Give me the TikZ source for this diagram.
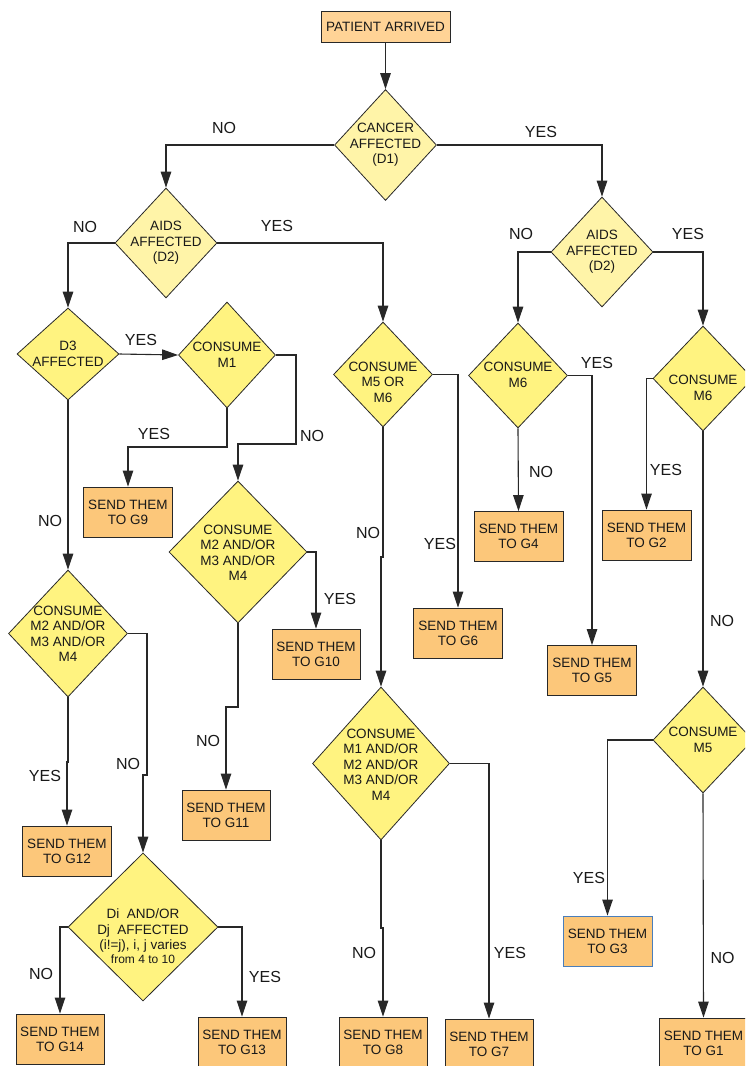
\documentclass[tikz,border=0pt]{standalone}
\usepackage{fontspec}
\setmainfont{Liberation Sans}
\usetikzlibrary{shapes.geometric,arrows.meta}
\definecolor{boxfill}{RGB}{252,199,122}
\definecolor{startfill}{RGB}{255,211,150}
\definecolor{diafill}{RGB}{255,243,128}
\definecolor{dialight}{RGB}{255,244,168}
\definecolor{linecol}{RGB}{40,40,40}
\definecolor{txtcol}{RGB}{25,25,25}
\definecolor{bluebord}{RGB}{74,126,187}
\begin{document}
\begin{tikzpicture}[x=1pt,y=-1pt,
 box/.style={rectangle, draw=linecol, line width=0.9pt, fill=boxfill, minimum width=89pt, minimum height=50pt, inner sep=0pt, align=center, font=\fontsize{13.5}{15}\selectfont, text=txtcol},
 dia/.style={diamond, draw=linecol, line width=0.8pt, fill=diafill, inner sep=0pt},
 dialt/.style={dia, fill=dialight},
 dtxt/.style={align=center, font=\fontsize{13.5}{15.5}\selectfont, text=txtcol, inner sep=0pt},
 lbl/.style={font=\fontsize{16}{18}\selectfont, text=txtcol, inner sep=0pt},
 arr/.style={draw=linecol, line width=1.1pt, -{Triangle[length=16pt,width=10.5pt]}},
 ln/.style={draw=linecol, line width=1.1pt}]
\useasboundingbox (0,0) rectangle (745,1066);
\clip (0,0) rectangle (745,1066);
\fill[white] (0,0) rectangle (745,1066);

% ---------- start ----------
\node[box, fill=startfill, minimum width=129pt, minimum height=31pt] (pa) at (385.5,26.5) {PATIENT ARRIVED};

% ---------- diamonds ----------
\node[dialt, minimum width=102pt, minimum height=111pt] (d1) at (385.5,145) {};
\node[dtxt] (d1t) at (385.5,145) {CANCER\\AFFECTED\\(D1)};

\node[dialt, minimum width=102pt, minimum height=110pt] (d2l) at (166,243) {};
\node[dtxt] (d2lt) at (166,243) {AIDS\\AFFECTED\\(D2)};

\node[dialt, minimum width=102pt, minimum height=110pt] (d2r) at (602,252) {};
\node[dtxt] (d2rt) at (602,252) {AIDS\\AFFECTED\\(D2)};

\node[dia, minimum width=102pt, minimum height=92pt] (d3) at (68,354) {};
\node[dtxt] (d3t) at (68,354) {D3\\AFFECTED};

\node[dia, minimum width=97pt, minimum height=106pt] (m1) at (227,355) {};
\node[dtxt] (m1t) at (227,355) {CONSUME\\M1};

\node[dia, minimum width=138pt, minimum height=142pt] (c234a) at (238,552) {};
\node[dtxt] (c234at) at (238,553) {CONSUME\\M2 AND/OR\\M3 AND/OR\\M4};

\node[dia, minimum width=119pt, minimum height=127pt] (c234b) at (68,633.5) {};
\node[dtxt] (c234bt) at (68,634) {CONSUME\\M2 AND/OR\\M3 AND/OR\\M4};

\node[dia, minimum width=150pt, minimum height=148pt] (dij) at (143,927) {};
\node[dtxt] (dijt) at (143,936) {Di~ AND/OR\\Dj~ AFFECTED\\(i!=j), i, j varies\\[-2pt]{\fontsize{12}{13}\selectfont from 4 to 10}};

\node[dia, minimum width=99pt, minimum height=105pt] (c56) at (383,374.5) {};
\node[dtxt] (c56t) at (383,382) {CONSUME\\M5 OR\\M6};

\node[dia, minimum width=137pt, minimum height=153pt] (c1234) at (381,763.5) {};
\node[dtxt] (c1234t) at (381,764.5) {CONSUME\\M1 AND/OR\\M2 AND/OR\\M3 AND/OR\\M4};

\node[dia, minimum width=99pt, minimum height=105pt] (cm6a) at (518,375.5) {};
\node[dtxt] (cm6at) at (518,375) {CONSUME\\M6};

\node[dia, minimum width=100pt, minimum height=105pt] (cm6b) at (703,378.5) {};
\node[dtxt] (cm6bt) at (703,388) {CONSUME\\M6};

\node[dia, minimum width=100pt, minimum height=106pt] (cm5) at (703,740) {};
\node[dtxt] (cm5t) at (703,740) {CONSUME\\M5};

% ---------- boxes ----------
\node[box] (g9) at (128,512) {SEND THEM\\TO G9};
\node[box, minimum width=88pt] (g10) at (316,654) {SEND THEM\\TO G10};
\node[box, minimum width=88pt] (g11) at (226,815) {SEND THEM\\TO G11};
\node[box] (g12) at (67,851) {SEND THEM\\TO G12};
\node[box, minimum width=88pt] (g14) at (60,1039) {SEND THEM\\TO G14};
\node[box, minimum width=88pt] (g13) at (242,1042) {SEND THEM\\TO G13};
\node[box] (g6) at (458,633) {SEND THEM\\TO G6};
\node[box, minimum width=88pt] (g8) at (383,1042) {SEND THEM\\TO G8};
\node[box, minimum width=88pt] (g7) at (489,1044) {SEND THEM\\TO G7};
\node[box] (g4) at (518.5,536.5) {SEND THEM\\TO G4};
\node[box] (g5) at (592,670.5) {SEND THEM\\TO G5};
\node[box] (g2) at (646.5,535) {SEND THEM\\TO G2};
\node[box, draw=bluebord] (g3) at (607.5,941) {SEND THEM\\TO G3};
\node[box] (g1) at (703.5,1043) {SEND THEM\\TO G1};

% ---------- bend coordinates ----------
\coordinate (m1b) at (227,447);
\coordinate (m1r) at (296,444);
\coordinate (j11) at (238,707);
\coordinate (j12) at (68,762);
\coordinate (j13) at (147,775);
\coordinate (j17) at (383,557);
\coordinate (j18) at (381,928);

% ---------- connectors ----------
\draw[arr] (pa.south) -- (d1.north);
\draw[arr] (d1.west) -| (d2l.north);
\draw[arr] (d1.east) -| (d2r.north);
\draw[arr] (d2l.west) -| (d3.north);
\draw[arr] (d2l.east) -| (c56.north);
\draw[arr] (d3.east) -- (m1.west);
\draw[arr] (m1.south) -- (m1b) -| (g9.north);
\draw[arr] (m1.east) -| (m1r) -| (c234a.north);
\draw[arr] (c234a.east) -| (g10.north);
\draw[arr] (c234a.south) -- (j11) -| (g11.north);
\draw[arr] (d3.south) -- (c234b.north);
\draw[arr] (c234b.south) -- (j12) -| (g12.north);
\draw[arr] (c234b.east) -| (j13) -| (dij.north);
\draw[arr] (dij.west) -| (g14.north);
\draw[arr] (dij.east) -| (g13.north);
\draw[arr] (c56.east) -| (g6.north);
\draw[arr] (c56.south) -- (j17) -| (c1234.north);
\draw[arr] (c1234.south) -- (j18) -| (g8.north);
\draw[arr] (c1234.east) -| (g7.north);
\draw[arr] (d2r.west) -| (cm6a.north);
\draw[arr] (d2r.east) -| (cm6b.north);
\draw[arr] (cm6a.south) -- (g4.north);
\draw[arr] (cm6a.east) -| (g5.north);
\draw[arr] (cm6b.west) -| (g2.north);
\draw[arr] (cm6b.south) -- (cm5.north);
\draw[arr] (cm5.west) -| (g3.north);
\draw[arr] (cm5.south) -- (g1.north);

% ---------- labels ----------
\node[lbl] (l1) at (224,128) {NO};
\node[lbl] (l2) at (541,132) {YES};
\node[lbl] (l3) at (85,227) {NO};
\node[lbl] (l4) at (277,226) {YES};
\node[lbl] (l5) at (141,340) {YES};
\node[lbl] (l6) at (154,434) {YES};
\node[lbl] (l7) at (312,436) {NO};
\node[lbl] (l8) at (50,521) {NO};
\node[lbl] (l9) at (521,234) {NO};
\node[lbl] (l10) at (688,234) {YES};
\node[lbl] (l11) at (597,363) {YES};
\node[lbl] (l12) at (541,472) {NO};
\node[lbl] (l13) at (666,470) {YES};
\node[lbl] (l14) at (440,544) {YES};
\node[lbl] (l15) at (368,533) {NO};
\node[lbl] (l16) at (340,599) {YES};
\node[lbl] (l17) at (722,621) {NO};
\node[lbl] (l18) at (208,741) {NO};
\node[lbl] (l19) at (45,776) {YES};
\node[lbl] (l20) at (128,764) {NO};
\node[lbl] (l21) at (41,974) {NO};
\node[lbl] (l22) at (265,977) {YES};
\node[lbl] (l23) at (364,953) {NO};
\node[lbl] (l24) at (510,953) {YES};
\node[lbl] (l25) at (589,878) {YES};
\node[lbl] (l26) at (722.5,958) {NO};
\end{tikzpicture}
\end{document}
